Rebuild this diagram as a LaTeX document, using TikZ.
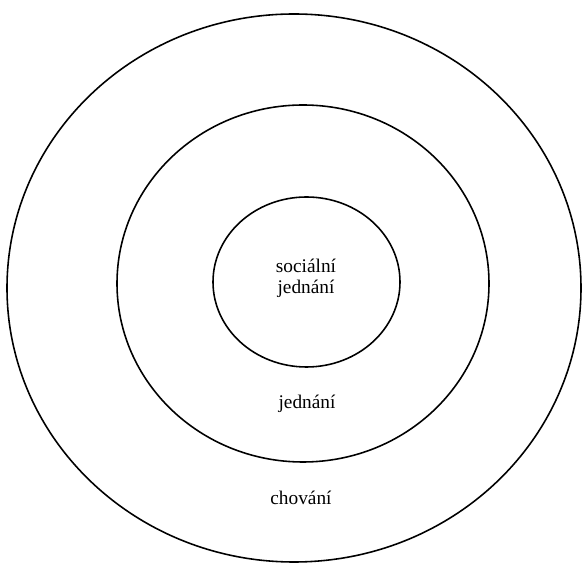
\documentclass[tikz,border=0pt]{standalone}
\usepackage{fontspec}
\setmainfont{Liberation Serif}
\usetikzlibrary{shapes.geometric, positioning}

\begin{document}
\begin{tikzpicture}[
    x=0.02cm, y=-0.02cm,
    every node/.style={font=\fontsize{11}{12}\selectfont},
    ring/.style={ellipse, draw, line width=0.9pt, inner sep=0pt},
    lbl/.style={align=center, inner sep=1pt}
]
    \useasboundingbox (0,0) rectangle (582,563);
    % concentric rings
    \node[ring, minimum width=574*0.02cm, minimum height=548*0.02cm] (outer) at (294,288) {};
    \node[ring, minimum width=372*0.02cm, minimum height=357*0.02cm] (middle) at (303,283.5) {};
    \node[ring, minimum width=187*0.02cm, minimum height=170*0.02cm] (inner)  at (306.5,282) {};

    % labels
    \node[lbl] (social) at (306,278) {sociální\\jednání};
    \node[lbl] (act)    at (307,404) {jednání};
    \node[lbl] (behav)  at (301,498) {chování};
\end{tikzpicture}
\end{document}
